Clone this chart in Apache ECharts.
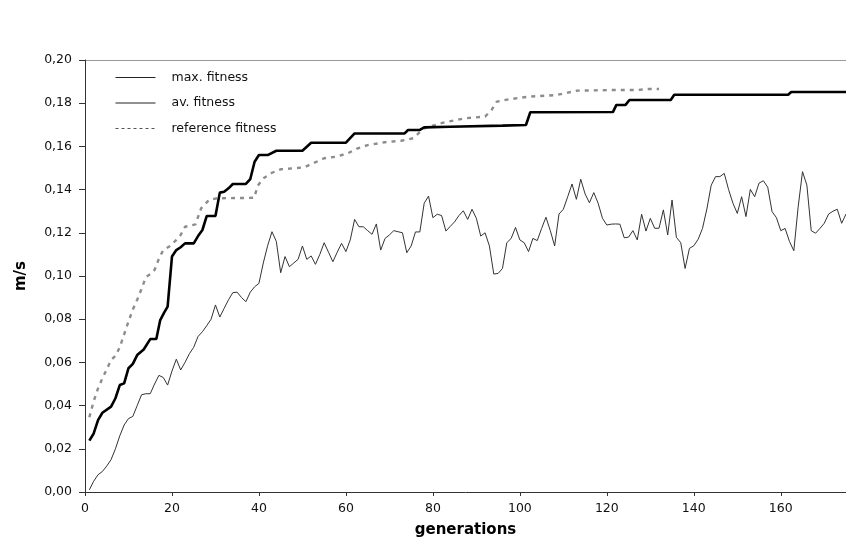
<!DOCTYPE html>
<html>
<head>
<meta charset="utf-8">
<script src="https://cdn.jsdelivr.net/npm/echarts@6/dist/echarts.min.js"></script>
<style>html,body{margin:0;padding:0;background:#fff}#c{width:846px;height:544px}</style>
</head>
<body>
<div id="c"></div>
<script>
// ---- data ----
const seriesNames = ['max. fitness', 'av. fitness', 'reference fitness'];

// max. fitness (thick step line): generation / value
const maxGen = [1,2,3,4,6,7,8,9,10,11,12,13.5,15,16.4,17.3,18.2,19,20,21,22,23,25,26,27,28,30,31,32,33,34,37,38,39,40,42,44,50,52,60,62,73.5,74.3,77,78,84,96,101.4,102.4,121.4,122.2,124.3,125.2,134.7,135.5,161.7,162.4,175];
const maxVal = [0.0238,0.0271,0.0333,0.0367,0.0395,0.0434,0.0495,0.0503,0.0573,0.0593,0.0634,0.066,0.0708,0.0708,0.0796,0.083,0.0858,0.109,0.112,0.1133,0.1151,0.1151,0.1185,0.1213,0.1278,0.1278,0.1386,0.139,0.1406,0.1426,0.1426,0.1448,0.1529,0.156,0.156,0.158,0.158,0.1617,0.1617,0.166,0.166,0.1676,0.1676,0.1688,0.1691,0.1696,0.1699,0.1758,0.1759,0.1792,0.1792,0.1815,0.1815,0.1839,0.1839,0.1852,0.1852];

// av. fitness (thin noisy line): one value per generation 1..175
const avVal = [
0.001,0.005,0.008,0.0095,0.012,0.015,0.020,0.026,0.031,0.034,
0.035,0.040,0.045,0.0455,0.0455,0.050,0.054,0.053,0.0495,0.056,
0.0615,0.0565,0.060,0.064,0.067,0.072,0.0742,0.077,0.080,0.0866,
0.081,0.085,0.089,0.0923,0.0925,0.090,0.0881,0.0925,0.095,0.0966,
0.106,0.114,0.1205,0.116,0.1015,0.109,0.1043,0.106,0.1077,0.1139,
0.1077,0.1093,0.1054,0.110,0.1154,0.111,0.1066,0.111,0.1151,0.1113,
0.1167,0.1262,0.1228,0.1228,0.121,0.1193,0.1241,0.112,0.1174,0.119,
0.121,0.1205,0.120,0.1108,0.1139,0.1204,0.1204,0.1337,0.137,0.127,
0.1286,0.128,0.1208,0.123,0.1251,0.128,0.1302,0.1262,0.1309,0.1267,
0.1185,0.120,0.1139,0.1009,0.1012,0.1035,0.1154,0.1174,0.1225,0.1167,
0.1154,0.1113,0.1174,0.1164,0.122,0.1272,0.121,0.1139,0.1287,0.1309,
0.1367,0.1426,0.1355,0.1448,0.138,0.1339,0.1386,0.1337,0.1267,0.1236,
0.124,0.1241,0.124,0.1177,0.118,0.121,0.1167,0.1286,0.1208,0.1267,
0.1221,0.1221,0.1306,0.119,0.1352,0.1179,0.1154,0.1035,0.1128,0.114,
0.117,0.122,0.131,0.142,0.146,0.146,0.1475,0.140,0.1337,0.129,
0.1367,0.1275,0.1401,0.1367,0.143,0.1441,0.1411,0.1298,0.127,0.121,
0.122,0.116,0.1117,0.132,0.1483,0.1421,0.121,0.1198,0.122,0.1244,
0.1287,0.130,0.1309,0.1244,0.1287
];

// reference fitness (dashed gray)
const refGen = [1,2,3,4,5,6,7,8,9,10,11,12,13,14,15,16,17,18,19.6,21,22,23,25.4,26.7,28.5,30.4,38.9,39.7,41,43,45,50.4,55,57.7,60.4,62.7,65,68.9,72.7,75.5,78,82.4,87.4,92,93.5,94.7,97.4,102,106,108.5,111,113.2,121.3,127,129.7,132];
const refVal = [0.0346,0.042,0.048,0.0526,0.0568,0.0611,0.063,0.067,0.073,0.0789,0.0845,0.089,0.094,0.0995,0.1008,0.1028,0.108,0.112,0.1139,0.1167,0.119,0.1228,0.1239,0.1313,0.1352,0.136,0.1362,0.1417,0.1452,0.1478,0.1494,0.1503,0.1545,0.1552,0.1568,0.1591,0.1606,0.1619,0.1626,0.1638,0.1684,0.171,0.173,0.1738,0.1769,0.1807,0.1818,0.183,0.1835,0.1838,0.1849,0.1858,0.1861,0.1861,0.1866,0.1866];

const xTickInterval = 20;
const yTickInterval = 0.02;

// ---- build ----
const zip = (xs, ys) => xs.map((x, i) => [x, ys[i]]);
const avData = avVal.map((v, i) => [i + 1, v]);
const FONT = 'DejaVu Sans';
const hiddenSymbol = {opacity: 0, color: 'transparent', borderWidth: 0};

const chart = echarts.init(document.getElementById('c'), null, {renderer: 'canvas'});
chart.setOption({
  animation: false,
  backgroundColor: '#ffffff',
  textStyle: {fontFamily: FONT},
  grid: {left: 85, right: 0, top: 60, bottom: 52, containLabel: false},
  legend: {
    show: true,
    orient: 'vertical',
    left: 110, top: 66,
    itemWidth: 40, itemHeight: 14, itemGap: 12.5,
    data: [
      {name: seriesNames[0], itemStyle: hiddenSymbol, lineStyle: {width: 1, color: '#222', type: 'solid'}},
      {name: seriesNames[1], itemStyle: hiddenSymbol, lineStyle: {width: 1, color: '#222', type: 'solid'}},
      {name: seriesNames[2], itemStyle: hiddenSymbol, lineStyle: {width: 1, color: '#555', type: [3, 3]}}
    ],
    textStyle: {fontFamily: FONT, fontSize: 12.5, color: '#111', padding: [0, 0, 0, 11]}
  },
  xAxis: {
    type: 'value', min: 0, max: 175, interval: xTickInterval,
    name: 'generations', nameLocation: 'middle', nameGap: 31,
    nameTextStyle: {fontFamily: FONT, fontWeight: 'bold', fontSize: 15, color: '#000'},
    axisLine: {lineStyle: {color: '#333', width: 1}},
    axisTick: {show: true, length: 4, lineStyle: {color: '#333'}},
    axisLabel: {fontFamily: FONT, fontSize: 12.5, color: '#111', margin: 10, showMaxLabel: false,
      formatter: v => (v % 20 === 0 ? String(v) : '')},
    splitLine: {show: false}
  },
  yAxis: {
    type: 'value', min: 0, max: 0.2, interval: yTickInterval,
    name: 'm/s', nameLocation: 'middle', nameGap: 56, nameRotate: 90,
    nameTextStyle: {fontFamily: FONT, fontWeight: 'bold', fontSize: 15, color: '#000'},
    axisLine: {show: true, lineStyle: {color: '#333', width: 1}},
    axisTick: {show: true, length: 6, lineStyle: {color: '#333'}},
    axisLabel: {fontFamily: FONT, fontSize: 12.5, color: '#111', margin: 13,
      formatter: v => v.toFixed(2).replace('.', ',')},
    splitLine: {show: true, lineStyle: {width: 1,
      color: ['transparent','transparent','transparent','transparent','transparent','transparent','transparent','transparent','transparent','transparent','#999']}}
  },
  series: [
    {name: seriesNames[0], type: 'line', data: zip(maxGen, maxVal), symbol: 'none', z: 3,
      lineStyle: {color: '#000', width: 2.6}, itemStyle: {color: '#000'}},
    {name: seriesNames[1], type: 'line', data: avData, symbol: 'none', z: 2,
      lineStyle: {color: '#333', width: 1}, itemStyle: {color: '#333'}},
    {name: seriesNames[2], type: 'line', data: zip(refGen, refVal), symbol: 'none', z: 1,
      lineStyle: {color: '#8c8c8c', width: 2.4, type: [4, 5]}, itemStyle: {color: '#8c8c8c'}}
  ]
});
</script>
</body>
</html>
